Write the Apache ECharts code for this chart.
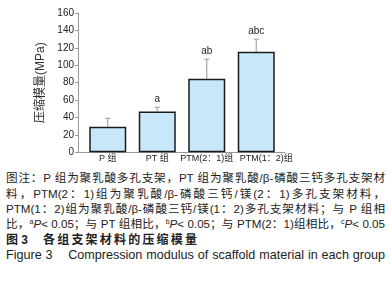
<!DOCTYPE html>
<html>
<head>
<meta charset="utf-8">
<script src="https://cdn.jsdelivr.net/npm/echarts@6/dist/echarts.min.js"></script>
<style>
  html, body { margin: 0; padding: 0; background: #fff; }
  #wrap { position: relative; width: 391px; height: 284px; overflow: hidden; }
  #chart { position: absolute; left: 0; top: 0; width: 391px; height: 165px; }
  .ln { position: absolute; left: 6px; width: 379px; height: 16px; line-height: 16px;
    font-family: "Liberation Sans", "Noto Sans CJK SC", sans-serif; font-size: 11.6px;
    color: #222; text-align: justify; text-align-last: justify; white-space: nowrap; }
  .ttl { position: absolute; height: 16px; line-height: 16px; font-weight: bold;
    font-family: "Liberation Sans", "Noto Sans CJK SC", sans-serif; font-size: 12px;
    color: #222; white-space: pre; }
  .en { position: absolute; left: 6px; width: 379px; height: 16px; line-height: 16px;
    font-family: "Liberation Sans", sans-serif; font-size: 12.6px; color: #222;
    white-space: nowrap; text-align: justify; text-align-last: justify; }
  sup { font-size: 7px; vertical-align: 4px; line-height: 0; }
</style>
</head>
<body>
<div id="wrap">
  <div id="chart"></div>
  <div class="ln" style="top:170px">图注：P 组为聚乳酸多孔支架，PT 组为聚乳酸/β-磷酸三钙多孔支架材</div>
  <div class="ln" style="top:186px">料，PTM(2：1)组为聚乳酸/β-磷酸三钙/镁(2：1)多孔支架材料，</div>
  <div class="ln" style="top:201px">PTM(1：2)组为聚乳酸/β-磷酸三钙/镁(1：2)多孔支架材料；与 P 组相</div>
  <div class="ln" style="top:216px">比，<sup>a</sup><i>P</i>&lt; 0.05；与 PT 组相比，<sup>b</sup><i>P</i>&lt; 0.05；与 PTM(2：1)组相比，<sup>c</sup><i>P</i>&lt; 0.05</div>
  <div class="ttl" style="top:232px; left:6px">图 3</div>
  <div class="ttl" style="top:232px; left:43px; letter-spacing:2.2px">各组支架材料的压缩模量</div>
  <div class="en" style="top:247px">Figure 3 &nbsp;&nbsp; Compression modulus of scaffold material in each group</div>
</div>
<script>
const groups = ['P 组', 'PT 组', 'PTM(2：1)组', 'PTM(1：2)组'];
const modulus = [29.4, 47, 84.6, 115.6];
const sd = [9.6, 4.7, 22.3, 14.3];
const marks = ['', 'a', 'ab', 'abc'];
const yTicks = { min: 0, max: 160, interval: 20 };

const chart = echarts.init(document.getElementById('chart'));
const font = '"Liberation Sans", "Noto Sans CJK SC", sans-serif';

chart.setOption({
  animation: false,
  grid: [
    { left: 83, width: 198, top: 13, height: 139.3 },
    { left: 78, width: 207, top: 13, height: 139.3 }
  ],
  xAxis: [
    {
      type: 'category',
      data: groups,
      gridIndex: 0,
      axisLine: { show: false },
      axisTick: { show: false },
      axisLabel: {
        color: '#222', fontSize: 9, fontFamily: font, margin: 2, interval: 0, hideOverlap: false,
        formatter: (v, i) => '{' + (i === 3 ? 's' : 'n') + '|' + v + '}',
        rich: {
          n: { fontSize: 9, fontFamily: font, color: '#222' },
          s: { fontSize: 9, fontFamily: font, color: '#222', padding: [0, 0, 0, 20] }
        }
      }
    },
    {
      type: 'value',
      gridIndex: 1,
      min: 0, max: 1,
      axisLine: { show: true, lineStyle: { color: '#999', width: 1 } },
      axisTick: { show: false },
      axisLabel: { show: false },
      splitLine: { show: false }
    }
  ],
  yAxis: [
    {
      type: 'value',
      gridIndex: 0,
      min: yTicks.min, max: yTicks.max, interval: yTicks.interval,
      offset: 5,
      name: '压缩模量(MPa)',
      nameLocation: 'middle',
      nameRotate: 90,
      nameGap: 28,
      nameTextStyle: { color: '#333', fontSize: 12, fontFamily: font },
      axisLine: { show: true, lineStyle: { color: '#999', width: 1 } },
      axisTick: { show: true, length: 3, lineStyle: { color: '#999' } },
      axisLabel: { color: '#222', fontSize: 10, fontFamily: font, margin: 4 },
      splitLine: { show: false }
    },
    {
      type: 'value',
      gridIndex: 1,
      min: 0, max: 1,
      show: false
    }
  ],
  series: [
    {
      type: 'bar',
      data: modulus,
      barWidth: 37,
      itemStyle: { color: '#c8e7f8', borderColor: '#1a1a1a', borderWidth: 1.5 }
    },
    {
      type: 'custom',
      data: modulus.map((v, i) => [i, v, v + sd[i]]),
      z: 1,
      renderItem: function (params, api) {
        const top = api.coord([api.value(0), api.value(2)]);
        const base = api.coord([api.value(0), api.value(1)]);
        const i = params.dataIndex;
        const style = { stroke: '#a8a8a8', lineWidth: 1.2 };
        const children = [
          { type: 'line', shape: { x1: base[0], y1: base[1], x2: top[0], y2: top[1] }, style: style },
          { type: 'line', shape: { x1: top[0] - 2.5, y1: top[1], x2: top[0] + 2.5, y2: top[1] }, style: style }
        ];
        if (marks[i]) {
          children.push({
            type: 'text',
            style: {
              text: marks[i], x: top[0], y: top[1] - 8,
              textAlign: 'center', textVerticalAlign: 'middle',
              fill: '#222', font: '10px ' + font
            }
          });
        }
        return { type: 'group', children: children };
      }
    }
  ]
});
</script>
</body>
</html>
